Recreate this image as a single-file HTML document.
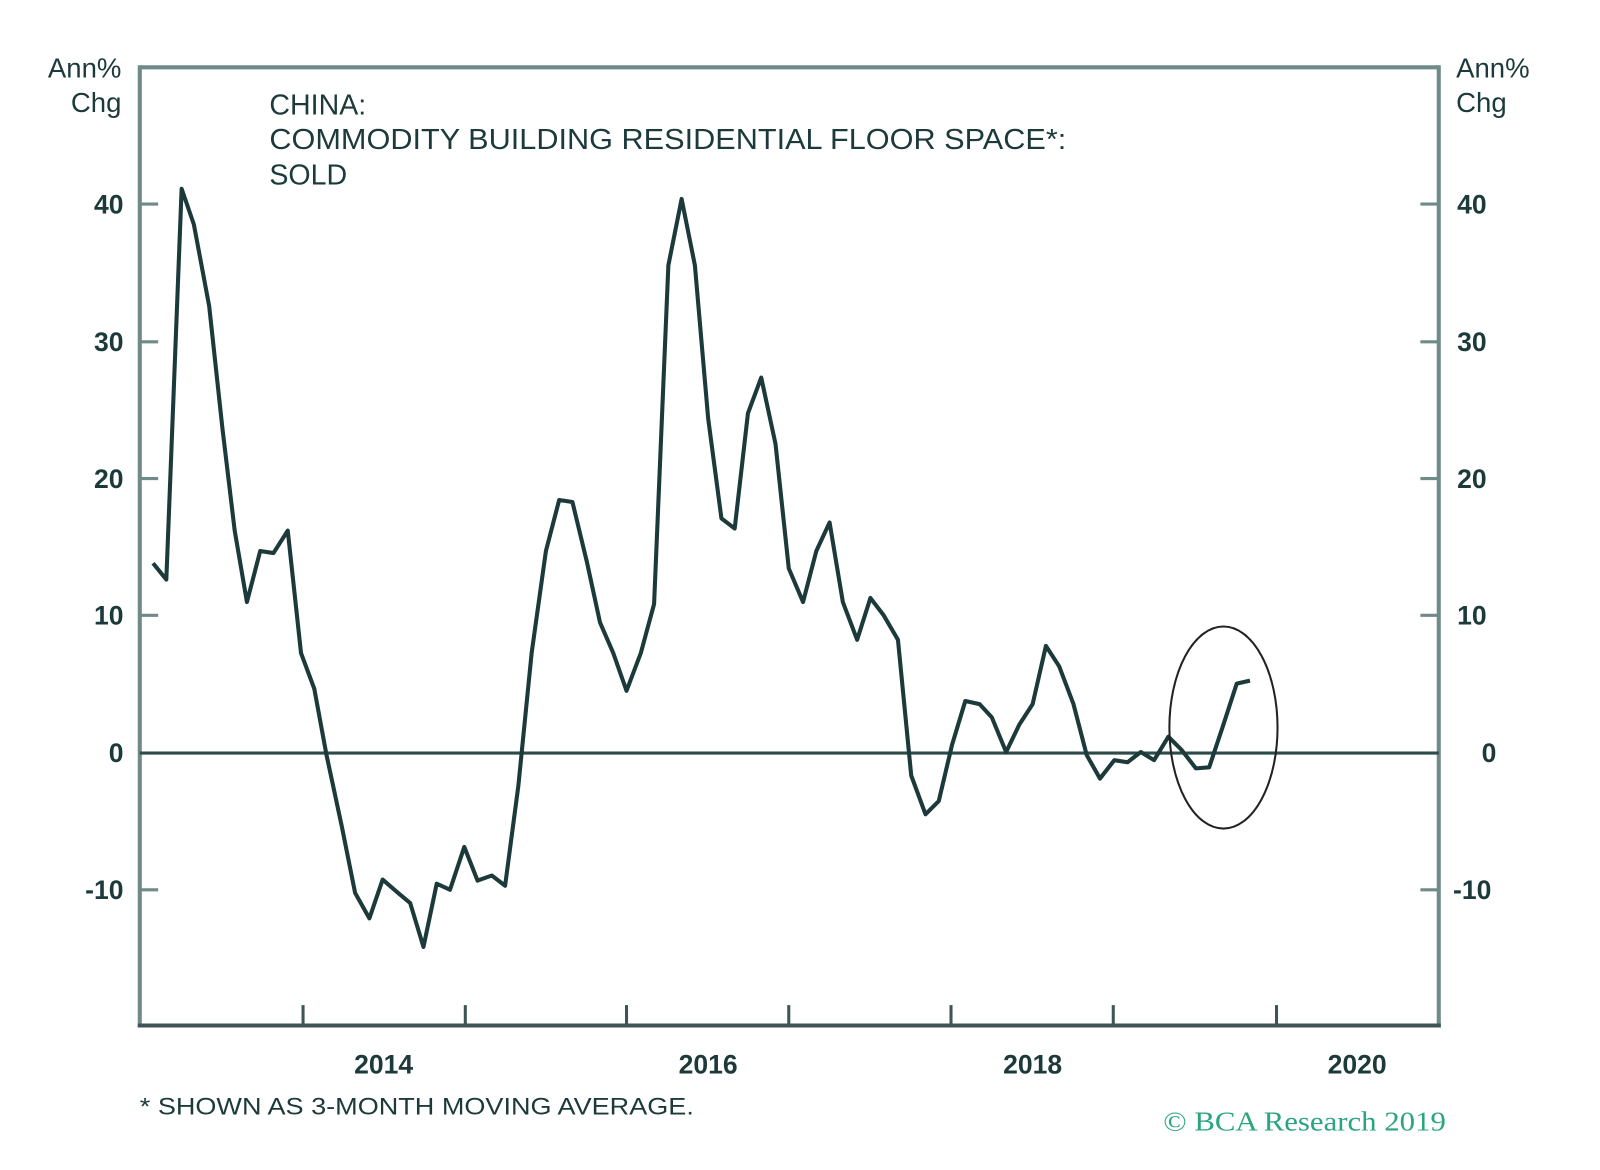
<!DOCTYPE html>
<html><head><meta charset="utf-8"><style>
html,body{margin:0;padding:0;background:#fff;}
svg{display:block;}
text{font-family:"Liberation Sans",sans-serif;fill:#1d3a3b;}
</style></head><body>
<svg width="1600" height="1170" viewBox="0 0 1600 1170" xmlns="http://www.w3.org/2000/svg">
<rect width="1600" height="1170" fill="#fff"/>
<g transform="scale(1.0204)">
<g stroke="#6f8a88" stroke-width="4" fill="none">
<line x1="137" y1="66" x2="1410" y2="66"/>
<line x1="137" y1="64" x2="137" y2="1007"/>
<line x1="1410" y1="64" x2="1410" y2="1007"/>
</g>
<line x1="135" y1="1005" x2="1412" y2="1005" stroke="#3d5655" stroke-width="4"/>
<g stroke="#6f8a88" stroke-width="3">
<line x1="137" y1="200" x2="155" y2="200"/><line x1="1392" y1="200" x2="1410" y2="200"/>
<line x1="137" y1="335" x2="155" y2="335"/><line x1="1392" y1="335" x2="1410" y2="335"/>
<line x1="137" y1="469" x2="155" y2="469"/><line x1="1392" y1="469" x2="1410" y2="469"/>
<line x1="137" y1="603" x2="155" y2="603"/><line x1="1392" y1="603" x2="1410" y2="603"/>
<line x1="137" y1="872" x2="155" y2="872"/><line x1="1392" y1="872" x2="1410" y2="872"/>
</g>
<g stroke="#3d5655" stroke-width="3">
<line x1="297" y1="985" x2="297" y2="1005"/><line x1="456" y1="985" x2="456" y2="1005"/>
<line x1="614" y1="985" x2="614" y2="1005"/><line x1="773" y1="985" x2="773" y2="1005"/>
<line x1="932" y1="985" x2="932" y2="1005"/><line x1="1091" y1="985" x2="1091" y2="1005"/>
<line x1="1251" y1="985" x2="1251" y2="1005"/>
</g>
<line x1="137" y1="738" x2="1410" y2="738" stroke="#2f4a4a" stroke-width="3"/>
<polyline fill="none" stroke="#1d3a3b" stroke-width="4" stroke-linejoin="round" points="150,552 163,568 178,185 190,220 205,300 218,420 230,520 242,590 255,540 268,542 282,520 295,640 308,675 320,740 335,810 348,875 362,900 375,862 390,875 402,885 415,928 428,866 441,872 455,830 468,863 482,858 495,868 508,770 521,640 535,540 548,490 561,492 575,550 588,610 601,640 614,677 628,640 641,592 655,260 668,195 681,260 694,410 707,508 720,518 733,405 746,370 760,435 773,557 787,590 800,540 813,512 826,590 840,627 853,586 866,603 880,627 893,760 907,798 920,785 933,730 946,687 960,690 972,703 986,737 999,710 1012,690 1025,633 1038,653 1052,690 1065,740 1078,763 1092,745 1105,747 1118,737 1131,745 1145,722 1158,735 1172,753 1185,752 1198,713 1212,670 1225,667"/>
<ellipse cx="1199" cy="713" rx="53" ry="99" fill="none" stroke="#222" stroke-width="2"/>
<g font-size="27">
<text x="119" y="76" text-anchor="end">Ann%</text>
<text x="119" y="110" text-anchor="end">Chg</text>
<text x="1427" y="76">Ann%</text>
<text x="1427" y="110">Chg</text>
</g>
<g font-size="26" font-weight="bold" text-anchor="end">
<text x="121" y="209">40</text><text x="121" y="344">30</text><text x="121" y="478">20</text>
<text x="121" y="612">10</text><text x="121" y="747">0</text><text x="121" y="881">-10</text>
</g>
<g font-size="26" font-weight="bold">
<text x="1428" y="209">40</text><text x="1428" y="344">30</text><text x="1428" y="478">20</text>
<text x="1428" y="612">10</text><text x="1452" y="747">0</text><text x="1424" y="881">-10</text>
</g>
<g font-size="26" font-weight="bold" text-anchor="middle">
<text x="376" y="1052">2014</text><text x="694" y="1052">2016</text>
<text x="1012" y="1052">2018</text><text x="1330" y="1052">2020</text>
</g>
<g font-size="28">
<text x="264" y="112">CHINA:</text>
<text x="264" y="146" textLength="781" lengthAdjust="spacingAndGlyphs">COMMODITY BUILDING RESIDENTIAL FLOOR SPACE*:</text>
<text x="264" y="181">SOLD</text>
</g>
<text x="137" y="1092" font-size="24" textLength="543" lengthAdjust="spacingAndGlyphs">* SHOWN AS 3-MONTH MOVING AVERAGE.</text>
<text x="1140" y="1108" font-size="27" style="fill:#2aa57f;font-family:'Liberation Serif',serif" textLength="277" lengthAdjust="spacingAndGlyphs">© BCA Research 2019</text>
</g>
</svg>
</body></html>
